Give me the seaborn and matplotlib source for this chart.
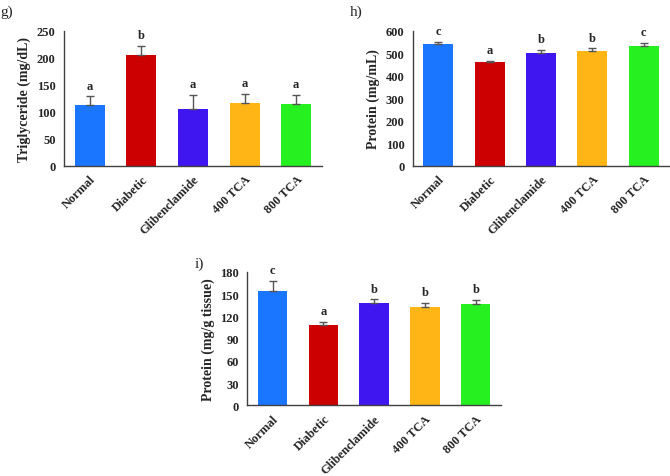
import pandas as pd
import numpy as np
import matplotlib
matplotlib.use("Agg")
import matplotlib.pyplot as plt
import seaborn as sns

# Datos de los tres paneles
groups = ["Normal", "Diabetic", "Glibenclamide", "400 TCA", "800 TCA"]
colors = ["#1A75FF", "#CC0000", "#4016F0", "#FFB515", "#27F020"]

tg_mean = [112, 205, 105, 116, 114]
tg_err = [17, 17, 27, 18, 18]
tg_letters = ["a", "b", "a", "a", "a"]

prot_ml_mean = [540, 463, 502, 510, 532]
prot_ml_err = [13, 4, 14, 13, 14]
prot_ml_letters = ["c", "a", "b", "b", "c"]

prot_tis_mean = [154, 109, 138, 132, 137]
prot_tis_err = [14, 4, 5, 6, 5]
prot_tis_letters = ["c", "a", "b", "b", "b"]

sns.set_style("white")
plt.rcParams["font.family"] = ["Liberation Serif", "DejaVu Serif"]
plt.rcParams["font.weight"] = "bold"

fig = plt.figure(figsize=(6.7, 4.77), dpi=100)


def draw_panel(rect, means, errs, letters, ylabel, ymax, ystep, tag, tag_xy):
    ax = fig.add_axes(rect)
    df = pd.DataFrame({"group": groups, "value": means})
    sns.barplot(data=df, x="group", y="value", hue="group", palette=colors,
                saturation=1, legend=False, errorbar=None, width=0.58, ax=ax,
                linewidth=0)
    x = np.arange(len(groups))
    ax.errorbar(x, means, yerr=[np.zeros(len(errs)), errs], fmt="none",
                ecolor="#555555", elinewidth=1, capsize=3, capthick=1)
    off = ymax * 0.035
    for xi, m, e, lt in zip(x, means, errs, letters):
        ax.text(xi, m + e + off, lt, ha="center", va="bottom",
                fontsize=9, fontweight="bold")
    ax.set_ylim(0, ymax)
    ax.set_xlim(-0.5, len(groups) - 0.5)
    ax.set_yticks(np.arange(0, ymax + 1, ystep))
    ax.set_ylabel(ylabel, fontsize=10, fontweight="bold", labelpad=4)
    ax.set_xlabel("")
    ax.set_xticks(x)
    ax.set_xticklabels(groups, rotation=45, ha="right", rotation_mode="anchor",
                       fontsize=9, fontweight="bold")
    ax.set_xticks(np.arange(-0.5, len(groups)), minor=True)
    ax.tick_params(axis="x", which="major", length=0, pad=5)
    ax.tick_params(axis="x", which="minor", length=4, width=1, color="#404040",
                   direction="out")
    ax.tick_params(axis="y", length=4, width=1, color="#404040", direction="out",
                   labelsize=9, pad=2)
    for lb in ax.get_yticklabels():
        lb.set_fontweight("bold")
    for s in ["top", "right"]:
        ax.spines[s].set_visible(False)
    for s in ["left", "bottom"]:
        ax.spines[s].set_color("#404040")
        ax.spines[s].set_linewidth(1)
    fig.text(tag_xy[0], tag_xy[1], tag, fontsize=11, fontweight="normal",
             ha="left", va="center")
    return ax


draw_panel([0.0955, 0.650, 0.385, 0.283], tg_mean, tg_err, tg_letters,
           "Triglyceride (mg/dL)", 250, 50, "g)", (0.0, 0.975))
draw_panel([0.616, 0.650, 0.383, 0.283], prot_ml_mean, prot_ml_err, prot_ml_letters,
           "Protein (mg/mL)", 600, 100, "h)", (0.522, 0.975))
draw_panel([0.369, 0.148, 0.379, 0.280], prot_tis_mean, prot_tis_err, prot_tis_letters,
           "Protein (mg/g tissue)", 180, 30, "i)", (0.29, 0.445))

fig.savefig("out.png", dpi=100)
